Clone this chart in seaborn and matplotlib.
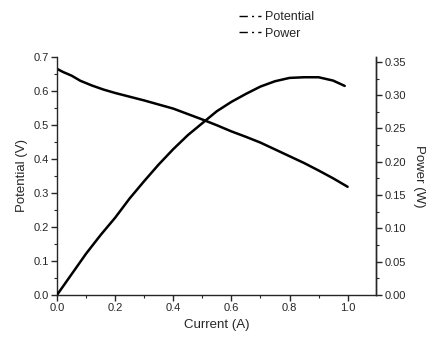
import matplotlib
matplotlib.use("Agg")
import matplotlib.pyplot as plt
import seaborn as sns
import pandas as pd
from matplotlib.lines import Line2D
from matplotlib.ticker import MultipleLocator, FormatStrFormatter

# Data
current_v = [0.0, 0.02, 0.05, 0.08, 0.12, 0.16, 0.2, 0.25, 0.3, 0.35, 0.4, 0.45, 0.5,
             0.55, 0.6, 0.65, 0.7, 0.75, 0.8, 0.85, 0.9, 0.95, 1.0]
potential = [0.665, 0.656, 0.645, 0.630, 0.616, 0.604, 0.594, 0.583, 0.572, 0.560,
             0.548, 0.532, 0.516, 0.499, 0.481, 0.465, 0.448, 0.428, 0.408, 0.388,
             0.366, 0.343, 0.318]
current_p = [0.0, 0.05, 0.1, 0.15, 0.2, 0.25, 0.3, 0.35, 0.4, 0.45, 0.5, 0.55,
             0.6, 0.65, 0.7, 0.75, 0.8, 0.85, 0.9, 0.95, 0.99]
power = [0.0, 0.031, 0.062, 0.090, 0.116, 0.145, 0.171, 0.196, 0.219, 0.240, 0.258,
         0.276, 0.290, 0.302, 0.313, 0.321, 0.326, 0.327, 0.327, 0.322, 0.314]
x_ticks = [0.0, 0.2, 0.4, 0.6, 0.8, 1.0]

sns.set_style("ticks")
plt.rcParams['font.family'] = ['Liberation Sans', 'DejaVu Sans']

fig = plt.figure(figsize=(4.29, 3.37), dpi=100)
ax = fig.add_axes([0.133, 0.125, 0.743, 0.706])
ax2 = ax.twinx()

df_v = pd.DataFrame({"Current": current_v, "Potential": potential})
df_p = pd.DataFrame({"Current": current_p, "Power": power})
sns.lineplot(data=df_v, x="Current", y="Potential", ax=ax, color="black", linewidth=1.8)
sns.lineplot(data=df_p, x="Current", y="Power", ax=ax2, color="black", linewidth=1.8)

ax.set_xlim(0, 1.097)
ax.set_ylim(0, 0.7)
ax2.set_ylim(0, 0.3575)
ax.set_xticks(x_ticks)
ax.xaxis.set_minor_locator(MultipleLocator(0.1))
ax.yaxis.set_major_locator(MultipleLocator(0.1))
ax.yaxis.set_minor_locator(MultipleLocator(0.05))
ax2.yaxis.set_major_locator(MultipleLocator(0.05))
ax2.yaxis.set_minor_locator(MultipleLocator(0.025))
ax.xaxis.set_major_formatter(FormatStrFormatter('%.1f'))
ax.yaxis.set_major_formatter(FormatStrFormatter('%.1f'))
ax2.yaxis.set_major_formatter(FormatStrFormatter('%.2f'))

for a in (ax, ax2):
    a.spines['top'].set_visible(False)
    for s in a.spines.values():
        s.set_linewidth(1.0)
    a.tick_params(which='major', length=4, width=1.0, labelsize=8, direction='out', pad=2)
    a.tick_params(which='minor', length=2, width=0.8, direction='out')
ax2.spines['left'].set_visible(False)
ax2.spines['bottom'].set_visible(False)

ax.set_xlabel("Current (A)", fontsize=9.5, labelpad=4)
ax.set_ylabel("Potential (V)", fontsize=9.5, labelpad=4)
ax2.set_ylabel("Power (W)", fontsize=9.5, rotation=270, labelpad=14)

handles = [Line2D([], [], color='black', lw=1.0, linestyle=(0, (6, 3, 1.5, 3))),
           Line2D([], [], color='black', lw=1.0, linestyle=(0, (6, 3, 1.5, 3)))]
fig.legend(handles, ["Potential", "Power"], loc='upper left',
           bbox_to_anchor=(0.53, 1.0), frameon=False, fontsize=9,
           handlelength=1.8, handletextpad=0.3, labelspacing=0.35)

fig.savefig("out.png", dpi=100)
